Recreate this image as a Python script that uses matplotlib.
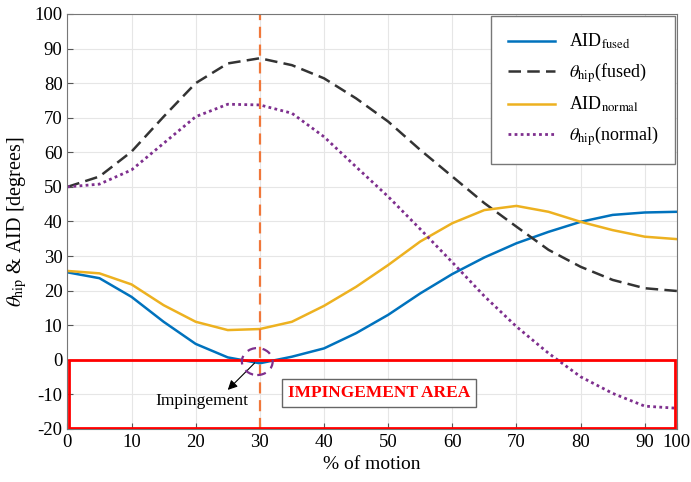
import matplotlib.pyplot as plt
from matplotlib.patches import Rectangle, Ellipse

plt.rcParams['font.family'] = ['Liberation Serif', 'DejaVu Serif']
plt.rcParams['mathtext.fontset'] = 'stix'
plt.rcParams['axes.unicode_minus'] = False

# % of motion (last sample sits at the "100" tick on the right edge)
motion = [0, 5, 10, 15, 20, 25, 30, 35, 40, 45, 50, 55, 60, 65, 70, 75, 80, 85, 90, 95]
aid_fused = [25.3, 23.6, 18.2, 11.0, 4.6, 0.7, -1.0, 0.9, 3.3, 7.7, 13.0, 19.2, 24.8, 29.6, 33.7, 37.0, 39.9, 41.9, 42.6, 42.8]
hip_fused = [50.0, 53.0, 60.2, 70.3, 80.0, 85.7, 87.2, 85.2, 81.4, 75.6, 68.9, 60.7, 53.0, 45.3, 38.5, 31.8, 26.9, 23.1, 20.7, 19.9]
aid_normal = [25.7, 25.0, 21.8, 15.8, 11.0, 8.6, 8.9, 11.0, 15.6, 21.1, 27.4, 34.2, 39.5, 43.3, 44.5, 42.8, 39.9, 37.5, 35.6, 34.9]
hip_normal = [50.0, 50.8, 54.9, 62.6, 70.3, 73.9, 73.7, 71.3, 64.5, 55.8, 47.2, 37.8, 28.2, 18.4, 9.6, 1.9, -4.9, -9.7, -13.4, -14.0]

xticks = [0, 10, 20, 30, 40, 50, 60, 70, 80, 90, 95]
xticklabels = ['0', '10', '20', '30', '40', '50', '60', '70', '80', '90', '100']

fig = plt.figure(figsize=(6.91, 4.82), dpi=100)
ax = fig.add_axes([0.0975, 0.11, 0.882, 0.861])

ax.plot(motion, aid_fused, color='#0072BD', lw=1.8, label=r'AID$_{\rm fused}$')
ax.plot(motion, hip_fused, color='#333333', lw=1.8, ls=(0, (5, 2.5)), label=r'$\theta_{\rm hip}$(fused)')
ax.plot(motion, aid_normal, color='#EDB120', lw=1.8, label=r'AID$_{\rm normal}$')
ax.plot(motion, hip_normal, color='#7E2F8E', lw=2.0, ls=(0, (1, 1.2)), label=r'$\theta_{\rm hip}$(normal)')

ax.axvline(30, color='#F0773A', lw=1.6, ls=(0, (5, 3)))
ax.add_patch(Rectangle((0.25, -19.6), 94.5, 19.6, fill=False, edgecolor='red', lw=2, zorder=5))
ax.add_patch(Ellipse((29.6, -0.5), 4.8, 7.8, fill=False, edgecolor='#7E2F8E', lw=1.6, ls=(0, (4, 3)), zorder=6))
ax.annotate('', xy=(25.0, -8.7), xytext=(29.2, -0.9),
            arrowprops=dict(arrowstyle='-|>', color='black', lw=0.8, mutation_scale=14,
                            shrinkA=0, shrinkB=0))
ax.text(21.0, -11.8, 'Impingement', fontsize=12.5, ha='center', va='center')
ax.text(48.6, -9.5, 'IMPINGEMENT AREA', color='red', fontsize=12.5, fontweight='bold',
        ha='center', va='center',
        bbox=dict(boxstyle='square,pad=0.35', fc='white', ec='#666666', lw=1))

ax.set_xlim(0, 95)
ax.set_ylim(-20, 100)
ax.set_xticks(xticks)
ax.set_xticklabels(xticklabels)
ax.set_yticks(range(-20, 101, 10))
ax.grid(True, color='#e6e6e6', lw=0.8)
ax.tick_params(labelsize=13.5, direction='in', color='#555555', length=4)
for s in ax.spines.values():
    s.set_color('#777777')
ax.set_xlabel('% of motion', fontsize=14)
ax.set_ylabel(r'$\theta_{\rm hip}$ & AID [degrees]', fontsize=14.5)

leg = ax.legend(loc='upper right', fontsize=13, labelspacing=0.55, handlelength=2.6,
                borderpad=0.9, borderaxespad=0.1, fancybox=False, framealpha=1,
                edgecolor='#777777')

fig.savefig('out.png', dpi=100)
